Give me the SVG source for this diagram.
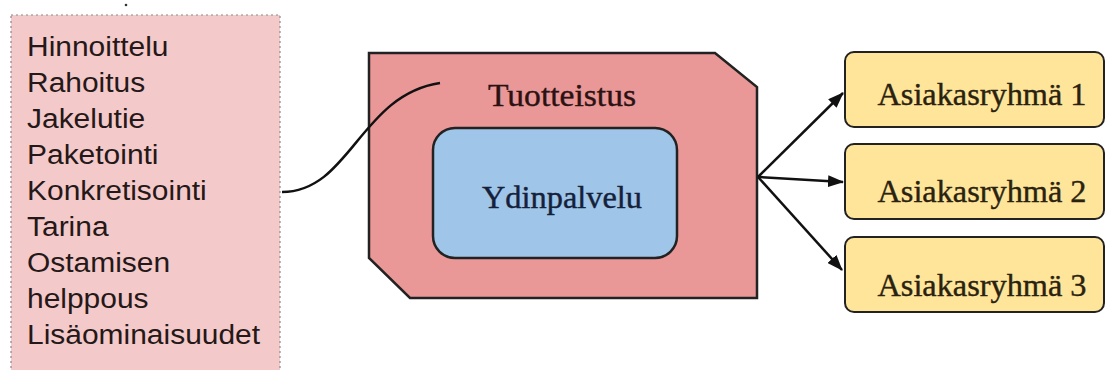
<svg xmlns="http://www.w3.org/2000/svg" width="1106" height="370" viewBox="0 0 1106 370">
  <defs>
    <marker id="ah" viewBox="0 0 16 12" refX="15" refY="6" markerWidth="16" markerHeight="12" markerUnits="userSpaceOnUse" orient="auto">
      <path d="M0,0 L16,6 L0,12 Z" fill="#111"/>
    </marker>
    <style>
      .list { font-family: "Liberation Sans", Arial, sans-serif; font-size: 28px; fill: #241818; }
      .serif { font-family: "Liberation Serif", "Times New Roman", serif; font-size: 32px; text-anchor: middle; stroke-width: 0.4; }
      .edge { fill: none; stroke: #111; stroke-width: 2.5; }
      .grp rect { fill: #ffe599; stroke: #222; stroke-width: 2; }
      .grp text { fill: #2a2210; stroke: #2a2210; }
    </style>
  </defs>
  <rect width="1106" height="370" fill="#ffffff"/>
  <circle cx="126" cy="5" r="1.3" fill="#333"/>

  <g id="features">
    <rect x="11" y="15" width="269" height="370" fill="#f4c9c9" stroke="#8a8a8a" stroke-width="1.2" stroke-dasharray="2 3"/>
    <g class="list" transform="translate(27 0) scale(1.07 1)">
      <text x="0" y="56">Hinnoittelu</text>
      <text x="0" y="92">Rahoitus</text>
      <text x="0" y="128">Jakelutie</text>
      <text x="0" y="164">Paketointi</text>
      <text x="0" y="200">Konkretisointi</text>
      <text x="0" y="236">Tarina</text>
      <text x="0" y="272">Ostamisen</text>
      <text x="0" y="308">helppous</text>
      <text x="0" y="344">Lisäominaisuudet</text>
    </g>
  </g>

  <g id="tuotteistus">
    <path d="M369,53 L715,53 L757,87 L757,298 L410,298 L369,258 Z" fill="#ea9797" stroke="#222" stroke-width="2.5" stroke-linejoin="miter"/>
    <text class="serif" x="562" y="106" fill="#2a1212" stroke="#2a1212" textLength="148" lengthAdjust="spacingAndGlyphs">Tuotteistus</text>
  </g>

  <g id="ydinpalvelu">
    <rect x="433" y="128" width="244" height="130" rx="22" ry="22" fill="#9fc5e8" stroke="#222" stroke-width="2.5"/>
    <text class="serif" x="562" y="208" fill="#15213a" stroke="#15213a" textLength="160" lengthAdjust="spacingAndGlyphs">Ydinpalvelu</text>
  </g>

  <g id="asiakasryhma1" class="grp">
    <rect x="845" y="52" width="259" height="75" rx="9" ry="9"/>
    <text class="serif" x="982" y="105" textLength="209" lengthAdjust="spacingAndGlyphs">Asiakasryhmä 1</text>
  </g>
  <g id="asiakasryhma2" class="grp">
    <rect x="845" y="144" width="259" height="75" rx="9" ry="9"/>
    <text class="serif" x="982" y="202" textLength="209" lengthAdjust="spacingAndGlyphs">Asiakasryhmä 2</text>
  </g>
  <g id="asiakasryhma3" class="grp">
    <rect x="845" y="237" width="259" height="75" rx="9" ry="9"/>
    <text class="serif" x="982" y="296" textLength="209" lengthAdjust="spacingAndGlyphs">Asiakasryhmä 3</text>
  </g>

  <g id="connectors">
    <path class="edge" d="M282,192 C350,192 360,95 440,83"/>
    <path class="edge" d="M758,177 L843,93" marker-end="url(#ah)"/>
    <path class="edge" d="M758,177 L843,182" marker-end="url(#ah)"/>
    <path class="edge" d="M758,177 L842,270" marker-end="url(#ah)"/>
  </g>
</svg>
